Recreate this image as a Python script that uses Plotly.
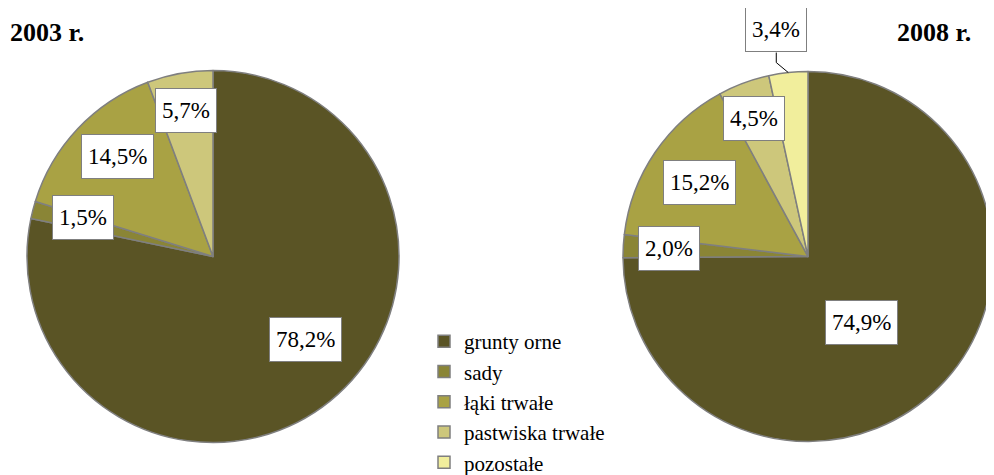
import math

import plotly.graph_objects as go

# data
categories = ["grunty orne", "sady", "łąki trwałe", "pastwiska trwałe", "pozostałe"]
values_2003 = [78.2, 1.5, 14.5, 5.7]
values_2008 = [74.9, 2.0, 15.2, 4.5, 3.4]
titles = ["2003 r.", "2008 r."]

colors = ["#5a5425", "#8a8536", "#a9a244", "#cdc77b", "#f1ee9c"]
edge = "#7f7f7f"
serif = "Liberation Serif"

W, H = 994, 475
OFF = 8  # page body margin: the figure is drawn 8px right/down


def px(x):
    return (x - OFF) / W


def py(y):
    return 1 - (y - OFF) / H


# pie geometry on screen: centre x, centre y, radius
pies = [(213, 256.5, 186), (808, 256.5, 185)]
# label placement: fraction of radius and small angle tweak (deg); None = outside with leader
label_frac = [[0.67, 0.73, 0.74, 0.80], [0.46, 0.75, 0.71, 0.80, None]]
label_tweak = [[-9, 2, 3, 0], [6, 0, 0, -1, 0]]
outside_offset = (-12, -43)  # label centre relative to the slice edge point, px

fig = go.Figure()
annotations = []
shapes = []
for k, (vals, (cx, cy, r)) in enumerate(zip([values_2003, values_2008], pies)):
    fig.add_trace(go.Pie(
        labels=categories[:len(vals)],
        values=vals,
        sort=False,
        direction="clockwise",
        rotation=0,
        marker=dict(colors=colors[:len(vals)], line=dict(color=edge, width=1.5)),
        textinfo="none",
        hoverinfo="label+value",
        domain=dict(x=[px(cx - r), px(cx + r)], y=[py(cy + r), py(cy - r)]),
    ))
    total = sum(vals)
    start = 0.0
    for i, v in enumerate(vals):
        span = v / total * 360
        mid = math.radians(start + span / 2 + label_tweak[k][i])
        start += span
        txt = f"{v:.1f}".replace(".", ",") + "%"
        frac = label_frac[k][i]
        if frac is None:
            # edge point of the slice, then the label above it with an elbow leader
            ex, ey = cx + r * math.sin(mid), cy - r * math.cos(mid)
            lx, ly = ex + outside_offset[0], ey + outside_offset[1]
            bottom = ly + 23
            shapes.append(dict(
                type="path", xref="paper", yref="paper",
                path=f"M {px(lx)} {py(bottom)} L {px(lx)} {py(bottom + 10)} L {px(ex)} {py(ey)}",
                line=dict(color="black", width=1),
            ))
        else:
            lx = cx + frac * r * math.sin(mid)
            ly = cy - frac * r * math.cos(mid)
        annotations.append(dict(
            text=txt, xref="paper", yref="paper", x=px(lx), y=py(ly),
            xanchor="center", yanchor="middle", showarrow=False,
            font=dict(family=serif, size=23, color="black"),
            bgcolor="white", bordercolor=edge, borderwidth=1, borderpad=6, height=31,
        ))

annotations.append(dict(text="<b>" + titles[0] + "</b>", xref="paper", yref="paper",
                        x=px(8), y=py(33), xanchor="left", yanchor="middle",
                        showarrow=False, font=dict(family=serif, size=26, color="black")))
annotations.append(dict(text="<b>" + titles[1] + "</b>", xref="paper", yref="paper",
                        x=px(973), y=py(33), xanchor="right", yanchor="middle",
                        showarrow=False, font=dict(family=serif, size=26, color="black")))

fig.update_layout(
    width=W, height=H,
    margin=dict(t=0, b=0, l=0, r=0),
    paper_bgcolor="white",
    plot_bgcolor="white",
    annotations=annotations,
    shapes=shapes,
    showlegend=True,
    legend=dict(x=px(424), y=py(321), xanchor="left", yanchor="top",
                font=dict(family=serif, size=21, color="black"),
                bgcolor="rgba(0,0,0,0)"),
)

fig.write_html("out.html")
